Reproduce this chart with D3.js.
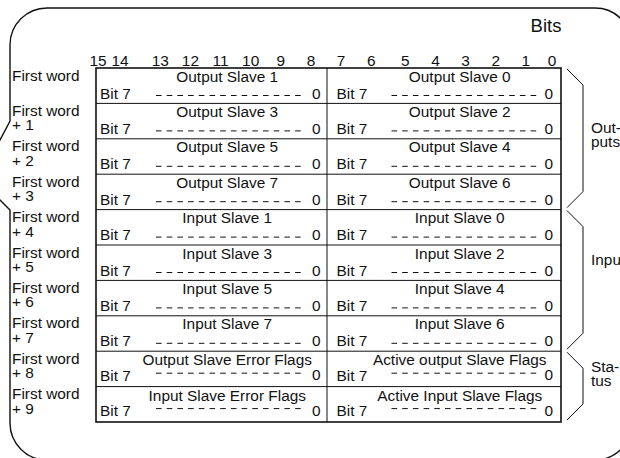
<!DOCTYPE html>
<html>
<head>
<meta charset="utf-8">
<script src="https://cdn.jsdelivr.net/npm/d3@7/dist/d3.min.js"></script>
<style>
  html, body { margin: 0; padding: 0; background: #fff; }
  svg { display: block; }
  text { font-family: "Liberation Sans", Arial, Helvetica, sans-serif; fill: #111; }
</style>
</head>
<body>
<svg id="chart" width="620" height="458"></svg>
<script>
// ---- data ----
const bitLabels = [15, 14, 13, 12, 11, 10, 9, 8, 7, 6, 5, 4, 3, 2, 1, 0];
const rowBase = "First word";
const rowOffsets = ["", "+ 1", "+ 2", "+ 3", "+ 4", "+ 5", "+ 6", "+ 7", "+ 8", "+ 9"];
const highByte = ["Output Slave 1", "Output Slave 3", "Output Slave 5", "Output Slave 7",
                  "Input Slave 1", "Input Slave 3", "Input Slave 5", "Input Slave 7",
                  "Output Slave Error Flags", "Input Slave Error Flags"];
const lowByte = ["Output Slave 0", "Output Slave 2", "Output Slave 4", "Output Slave 6",
                 "Input Slave 0", "Input Slave 2", "Input Slave 4", "Input Slave 6",
                 "Active output Slave Flags", "Active Input Slave Flags"];
const groupNames = [["Out-", "puts"], ["Inputs"], ["Sta-", "tus"]];
const groupStart = [0, 4, 8];
const groupEnd = [4, 8, 10];
const statusRows = [8, 9];
const bitHigh = "Bit 7";
const bitLow = "0";
const axisTitle = "Bits";

// ---- layout ----
const svg = d3.select("#chart");
const FS = 15.4;

const y = d3.scaleBand().domain(d3.range(rowOffsets.length)).range([68, 422]).padding(0);
const col = d3.scaleBand().domain([0, 1]).range([96, 561]).padding(0);
const bx = d3.scalePoint().domain(bitLabels).range([100, 552]);

// outer frame (rounded callout)
const R = 37, L = 10, T = 8, Rt = 632, B = 460;
const fp = d3.path();
fp.moveTo(L + R, T);
fp.lineTo(Rt - R, T);
fp.arcTo(Rt, T, Rt, T + R, R);
fp.lineTo(Rt, B - R);
fp.arcTo(Rt, B, Rt - R, B, R);
fp.lineTo(L + R, B);
fp.arcTo(L, B, L, B - R, R);
fp.lineTo(L, 210);
fp.lineTo(-8, 192);
fp.lineTo(-8, 155);
fp.lineTo(L, 121);
fp.lineTo(L, T + R);
fp.arcTo(L, T, L + R, T, R);
fp.closePath();
svg.append("path").attr("d", fp.toString())
  .attr("fill", "none").attr("stroke", "#111").attr("stroke-width", 1.4);

// "Bits" title
svg.append("text").attr("x", 546).attr("y", 32).attr("text-anchor", "middle")
  .style("font-size", "18.5px").text(axisTitle);

// bit numbers
const bitNudge = b => (b === 15 ? -2 : b === 14 ? -10 : (b <= 5 && b >= 1) ? 4 : 0);
svg.append("g").selectAll("text").data(bitLabels).join("text")
  .attr("x", d => bx(d) + bitNudge(d))
  .attr("y", 66)
  .attr("text-anchor", "middle")
  .style("font-size", FS + "px")
  .text(d => d);

// row labels
const rl = svg.append("g").selectAll("text").data(rowOffsets).join("text")
  .attr("x", 12)
  .attr("y", (d, i) => y(i) + 12.5)
  .style("font-size", FS + "px");
rl.append("tspan").attr("x", 12).text(rowBase);
rl.append("tspan").attr("x", 12).attr("dy", 14.5).text(d => d);

// cells
const cells = [];
rowOffsets.forEach((_, i) => {
  cells.push({ row: i, c: 0, title: highByte[i] });
  cells.push({ row: i, c: 1, title: lowByte[i] });
});
const cg = svg.append("g").selectAll("g").data(cells).join("g")
  .attr("transform", d => `translate(${col(d.c)},${y(d.row)})`);
const cw = col.bandwidth();
const isStatus = d => statusRows.includes(d.row);
cg.append("text")
  .attr("x", cw / 2 + 15)
  .attr("y", d => isStatus(d) ? 14 : 13.5)
  .attr("text-anchor", "middle")
  .style("font-size", FS + "px")
  .text(d => d.title);
cg.append("text")
  .attr("x", d => d.c === 0 ? 4 : 8)
  .attr("y", d => isStatus(d) ? 29.5 : 30.5)
  .style("font-size", FS + "px")
  .text(bitHigh);
cg.append("line")
  .attr("x1", d => d.c === 0 ? 60 : 63)
  .attr("x2", d => d.c === 0 ? 207 : 212)
  .attr("y1", d => isStatus(d) ? 22 : 27.5)
  .attr("y2", d => isStatus(d) ? 22 : 27.5)
  .attr("stroke", "#111").attr("stroke-width", 1)
  .attr("stroke-dasharray", "5.6 5.1");
cg.append("text")
  .attr("x", cw - 8)
  .attr("y", d => isStatus(d) ? 29 : 30.5)
  .attr("text-anchor", "end")
  .style("font-size", FS + "px")
  .text(bitLow);

// grid lines
const grid = svg.append("g").attr("stroke", "#111").attr("fill", "none");
grid.selectAll("line.h").data(d3.range(1, rowOffsets.length)).join("line")
  .attr("class", "h")
  .attr("x1", col.range()[0]).attr("x2", col.range()[1])
  .attr("y1", d => y(d)).attr("y2", d => y(d))
  .attr("stroke-width", 1);
grid.append("line")
  .attr("x1", col(1) - 1.5).attr("x2", col(1) - 1.5)
  .attr("y1", y.range()[0]).attr("y2", y.range()[1])
  .attr("stroke-width", 1);
grid.append("rect")
  .attr("x", col.range()[0]).attr("y", y.range()[0])
  .attr("width", col.range()[1] - col.range()[0])
  .attr("height", y.range()[1] - y.range()[0])
  .attr("stroke-width", 1.6);

// group brackets
const labelDy = [-3, -20, -12];
const bg = svg.append("g");
groupNames.forEach((name, g) => {
  const top = y(groupStart[g]) + 1;
  const bot = y(groupEnd[g] - 1) + y.bandwidth() - 2;
  const p = d3.path();
  p.moveTo(567, top);
  p.lineTo(583, top + 16);
  p.lineTo(583, bot - 16);
  p.lineTo(567, bot);
  bg.append("path").attr("d", p.toString())
    .attr("fill", "none").attr("stroke", "#111").attr("stroke-width", 1);
  const c = (top + bot) / 2 + labelDy[g];
  const t = bg.append("text").style("font-size", FS + "px");
  name.forEach((s, k) => {
    t.append("tspan").attr("x", 591)
      .attr("y", c - (name.length - 1) * 14 / 2 + 5 + k * 14)
      .text(s);
  });
});
</script>
</body>
</html>
